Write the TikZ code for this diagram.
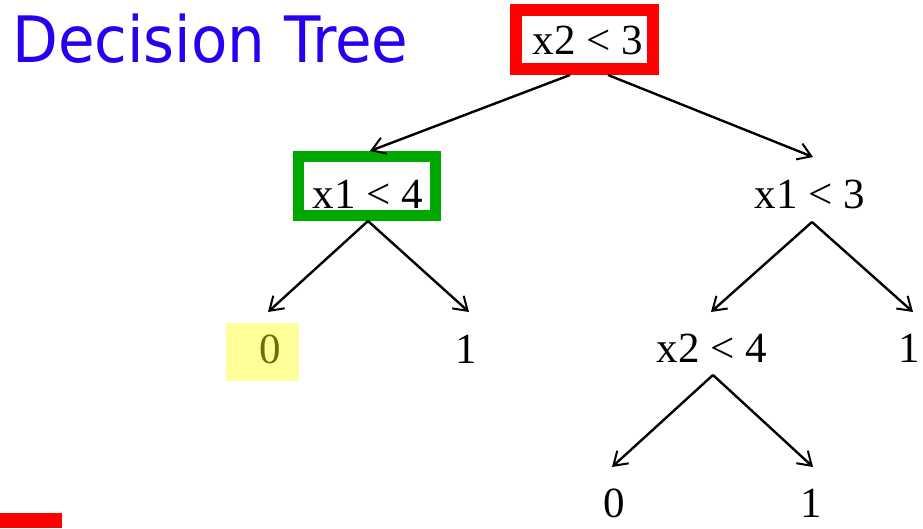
\documentclass[tikz,border=0pt]{standalone}
\usepackage{fontspec}
\setmainfont{Liberation Serif}
\newfontfamily\titlefont{DejaVu Sans}
\usetikzlibrary{arrows.meta}
\definecolor{titleblue}{RGB}{40,0,240}
\definecolor{boxred}{RGB}{255,0,0}
\definecolor{boxgreen}{RGB}{0,168,0}
\definecolor{hiyellow}{RGB}{255,255,153}
\definecolor{olive0}{RGB}{110,110,0}
\begin{document}
\begin{tikzpicture}[x=1pt,y=-1pt,
  lbl/.style={anchor=base,inner sep=0pt,font=\fontsize{43}{43}\selectfont},
  frame/.style={draw,inner sep=0pt,minimum width=137pt,minimum height=59pt},
  arr/.style={line width=2.4pt,-{Straight Barb[length=13pt,width=17pt,line width=2pt]}}]
\useasboundingbox (0,0) rectangle (923,528);
\fill[white] (0,0) rectangle (923,528);
% title
\node[anchor=base west,inner sep=0pt,text=titleblue,font=\titlefont\fontsize{64}{64}\selectfont] (title) at (12,62) {\scalebox{0.93}[1]{Decision Tree}};
% boxes
\node[frame,draw=boxred,line width=12pt] (rootbox) at (584.5,39.5) {};
\node[frame,draw=boxgreen,line width=11pt] (gbox) at (367,186) {};
\node[fill=hiyellow,inner sep=0pt,minimum width=73pt,minimum height=58pt] (ybox) at (262.5,352) {};
% labels
\node[lbl] (t0) at (588,54) {x2 < 3};
\node[lbl] (t1) at (368,208) {x1 < 4};
\node[lbl] (t2) at (810,208) {x1 < 3};
\node[lbl,text=olive0] (t3) at (270,363) {0};
\node[lbl] (t4) at (466,363) {1};
\node[lbl] (t5) at (712,362) {x2 < 4};
\node[lbl] (t6) at (909,362) {1};
\node[lbl] (t7) at (614,517) {0};
\node[lbl] (t8) at (811,517) {1};
% connectors
\draw[arr] ([xshift=-14.5pt]rootbox.south) -- ([xshift=3pt]gbox.north);
\draw[arr] ([xshift=23.5pt]rootbox.south) -- ([xshift=3pt,yshift=51pt]t2.base);
\draw[arr] ([xshift=1pt]gbox.south) -- ([xshift=-2pt,yshift=51pt]t3.base);
\draw[arr] ([xshift=1pt]gbox.south) -- ([xshift=3pt,yshift=51pt]t4.base);
\draw[arr] ([xshift=2pt,yshift=-14pt]t2.base) -- ([xshift=-1pt,yshift=50pt]t5.base);
\draw[arr] ([xshift=2pt,yshift=-14pt]t2.base) -- ([xshift=4pt,yshift=50pt]t6.base);
\draw[arr] ([xshift=1pt,yshift=-13pt]t5.base) -- ([xshift=-2pt,yshift=50pt]t7.base);
\draw[arr] ([xshift=1pt,yshift=-13pt]t5.base) -- ([xshift=2pt,yshift=50pt]t8.base);
% red bar bottom left
\fill[boxred] (0,513) rectangle (62,528);
\end{tikzpicture}
\end{document}
